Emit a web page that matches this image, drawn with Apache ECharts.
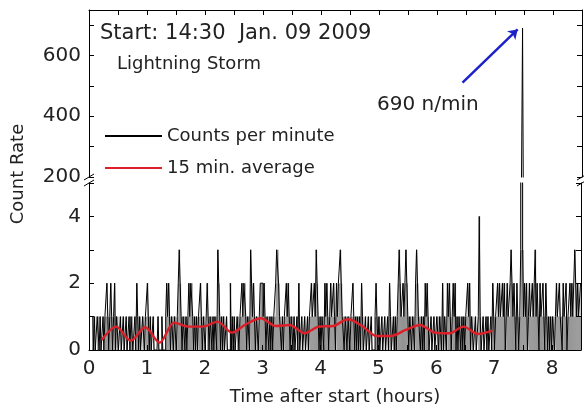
<!DOCTYPE html>
<html>
<head>
<meta charset="utf-8">
<style>
  html, body { margin: 0; padding: 0; background: #fff; }
  #main { width: 584px; height: 408px; }
</style>
</head>
<body>
<div id="main"></div>
<script src="https://cdn.jsdelivr.net/npm/echarts@6.0.0/dist/echarts.min.js"></script>
<script>
// counts per minute, one array per hour (hour 0 starts at minute 4)
var firstMinute = 4;
var hour0 = [1,0,1,0,0,1,1,0,1,0, 0,1,0,1,1,2,1,0,1,2, 1,0,1,2,0,1,1,0,0,1, 0,0,1,0,0,1,0,0,1,0, 1,1,0,0,1,0,2,1,0,1, 0,0,1,1,0,1];
var hour1 = [1,2,1,0,1,0,0,1,0,0, 0,0,1,0,0,0,1,0,0,0, 1,2,1,2,1,0,1,1,0,1, 1,0,1,2,3,2,1,0,1,1, 0,1,0,1,2,1,2,2,1,0, 1,0,1,0,1,1,2,1,0,1];
var hour2 = [1,0,0,2,1,0,1,1,0,1, 0,1,1,0,3,2,1,0,1,0, 1,0,0,1,0,0,0,2,0,1, 0,1,0,0,1,1,0,1,1,2, 1,2,2,1,0,1,1,0,3,2, 1,2,1,0,1,1,0,1,2,2];
var hour3 = [2,1,2,1,0,1,1,0,1,0, 1,0,1,1,2,3,3,2,1,1, 0,1,0,1,1,2,1,2,1,0, 1,1,0,1,0,0,1,0,2,0, 0,1,0,0,1,0,0,1,0,1, 1,2,1,1,2,1,3,2,1,0];
var hour4 = [1,0,1,1,0,2,1,2,1,0, 1,2,1,1,2,1,0,2,1,2, 2,3,2,1,1,0,1,1,0,1, 1,0,1,1,2,1,0,1,0,1, 0,1,0,2,1,0,0,1,0,0, 1,0,0,1,0,0,0,1,2,1];
var hour5 = [0,1,0,0,1,0,0,1,0,0, 1,0,2,1,0,0,1,0,1,0, 1,2,3,2,1,1,2,1,2,3, 2,1,0,1,1,0,1,1,0,2, 3,2,1,1,0,1,0,1,0,2, 1,2,1,0,0,1,0,0,1,0];
var hour6 = [0,1,1,0,1,1,0,2,0,1, 1,0,2,1,2,1,0,1,2,1, 2,0,1,0,1,1,0,1,0,1, 0,1,1,2,1,2,0,1,1,0, 0,1,0,0,1,4,1,0,0,1, 0,0,1,0,1,0,0,1,0,2];
var hour7 = [1,0,1,1,2,1,2,1,1,2, 1,2,0,1,2,1,1,2,3,2, 1,2,1,0,2,1,0,1,3,690, 3,1,2,1,2,0,1,2,1,1, 2,1,2,3,1,2,1,0,2,1, 1,2,1,0,2,1,0,1,0,1];
var hour8 = [0,1,1,0,1,2,1,1,2,1, 1,0,2,1,1,2,0,1,1,2, 1,2,1,1,3,2,1,2,1,1,2];

// 15 min. average
var avgTimes = [0.22,0.47,0.72,0.97,1.22,1.47,1.72,1.97,2.22,2.47,2.72,2.97,3.22,3.47,
                3.72,3.97,4.22,4.47,4.72,4.97,5.22,5.47,5.72,5.97,6.22,6.47,6.72,6.97];
var avgValues = [0.30,0.70,0.28,0.68,0.22,0.82,0.70,0.70,0.85,0.52,0.78,0.95,0.72,0.75,
                 0.50,0.70,0.72,0.92,0.72,0.42,0.42,0.60,0.75,0.52,0.50,0.70,0.48,0.58];

// arrow pointing at the peak
var arrowFrom = [6.44, 511];
var arrowTo = [7.39, 686];

var counts = [].concat(hour0, hour1, hour2, hour3, hour4, hour5, hour6, hour7, hour8);
var countData = counts.map(function (v, i) { return [(firstMinute + i) / 60, v]; });
var avgData = avgTimes.map(function (t, i) { return [t, avgValues[i]]; });

var FONT = 'DejaVu Sans';
var TXT = '#222';
var GL = 89, GR = 2, UT = 10, UH = 167, LT = 183, LH = 167;

var myChart = echarts.init(document.getElementById('main'));

var lineAx = { show: true, lineStyle: { color: '#000', width: 1 } };
var tickAx = { show: true, inside: true, length: 5, lineStyle: { color: '#000' } };

function xFmt(v) { return (Math.abs(v - Math.round(v)) < 1e-6 && v <= 8) ? String(Math.round(v)) : ''; }

option = {
    animation: false,
    textStyle: { fontFamily: FONT },
    grid: [
        { left: GL, right: GR, top: UT, height: UH },
        { left: GL, right: GR, top: LT, height: LH }
    ],
    legend: {
        left: 100, top: 122, orient: 'vertical',
        itemWidth: 57, itemHeight: 2, itemGap: 14, icon: 'rect',
        textStyle: { fontFamily: FONT, fontSize: 18, color: TXT },
        data: ['Counts per minute', '15 min. average']
    },
    xAxis: [
        { gridIndex: 0, type: 'value', position: 'top', min: 0, max: 8.5, interval: 0.5,
          axisLine: lineAx, axisTick: tickAx, axisLabel: { show: false }, splitLine: { show: false } },
        { gridIndex: 1, type: 'value', position: 'bottom', min: 0, max: 8.5, interval: 0.5,
          axisLine: lineAx, axisTick: tickAx, splitLine: { show: false },
          axisLabel: { formatter: xFmt, fontSize: 20, color: TXT, margin: 9, fontFamily: FONT },
          name: 'Time after start (hours)', nameLocation: 'middle', nameGap: 38,
          nameTextStyle: { fontSize: 18, color: TXT, fontFamily: FONT } }
    ],
    yAxis: [
        { gridIndex: 0, type: 'value', min: 200, max: 750, interval: 100, position: 'left',
          axisLine: lineAx, axisTick: tickAx, splitLine: { show: false },
          axisLabel: { fontSize: 20, color: TXT, margin: 8, fontFamily: FONT,
                       formatter: function (v) { return (v % 200 === 0 && v < 700) ? String(v) : ''; } } },
        { gridIndex: 0, type: 'value', min: 200, max: 750, interval: 100, position: 'right',
          axisLine: lineAx, axisTick: tickAx, splitLine: { show: false }, axisLabel: { show: false } },
        { gridIndex: 1, type: 'value', min: 0, max: 5, interval: 1, position: 'left',
          axisLine: lineAx, axisTick: tickAx, splitLine: { show: false },
          axisLabel: { fontSize: 20, color: TXT, margin: 8, fontFamily: FONT,
                       formatter: function (v) { return (v % 2 === 0 && v < 5) ? String(v) : ''; } } },
        { gridIndex: 1, type: 'value', min: 0, max: 5, interval: 1, position: 'right',
          axisLine: lineAx, axisTick: tickAx, splitLine: { show: false }, axisLabel: { show: false } }
    ],
    series: [
        {
            name: 'Counts per minute', type: 'line', xAxisIndex: 0, yAxisIndex: 0,
            data: countData, step: 'middle', symbol: 'none',
            lineStyle: { color: '#000', width: 1 }, itemStyle: { color: '#000' },
            markLine: {
                silent: true, symbol: ['none', 'arrow'], symbolSize: 9,
                label: { show: false },
                lineStyle: { color: '#1c22c8', width: 2.5, type: 'solid' },
                data: [[{ coord: arrowFrom }, { coord: arrowTo }]]
            }
        },
        {
            // grey fill under the per-minute steps
            name: 'counts fill', type: 'bar', xAxisIndex: 1, yAxisIndex: 2,
            data: countData, barWidth: 1, silent: true,
            itemStyle: { color: 'rgba(0,0,0,0.42)' }
        },
        {
            name: 'Counts per minute', type: 'line', xAxisIndex: 1, yAxisIndex: 2,
            data: countData, step: 'middle', symbol: 'none',
            lineStyle: { color: '#000', width: 1 }, itemStyle: { color: '#000' }
        },
        {
            name: '15 min. average', type: 'line', xAxisIndex: 1, yAxisIndex: 2,
            data: avgData, smooth: 0.3, symbol: 'none',
            lineStyle: { color: '#dc1f28', width: 2.4 }, itemStyle: { color: '#dc1f28' }
        }
    ],
    graphic: [
        { type: 'text', left: 100, top: 23,
          style: { text: 'Start: 14:30  Jan. 09 2009', font: '21px "DejaVu Sans"', fill: TXT } },
        { type: 'text', left: 117, top: 55,
          style: { text: 'Lightning Storm', font: '18px "DejaVu Sans"', fill: TXT } },
        { type: 'text', left: 377, top: 95,
          style: { text: '690 n/min', font: '20px "DejaVu Sans"', fill: TXT } },
        { type: 'text', x: 18, y: 174, rotation: Math.PI / 2,
          style: { text: 'Count Rate', font: '18px "DejaVu Sans"', fill: TXT, align: 'center', verticalAlign: 'middle' } },
        // axis break marks
        { type: 'line', shape: { x1: 84, y1: 180, x2: 94, y2: 174 }, style: { stroke: '#000', lineWidth: 1 } },
        { type: 'line', shape: { x1: 84, y1: 186, x2: 94, y2: 180 }, style: { stroke: '#000', lineWidth: 1 } },
        { type: 'line', shape: { x1: 577, y1: 180, x2: 587, y2: 174 }, style: { stroke: '#000', lineWidth: 1 } },
        { type: 'line', shape: { x1: 577, y1: 186, x2: 587, y2: 180 }, style: { stroke: '#000', lineWidth: 1 } }
    ]
};

myChart.setOption(option);
</script>
</body>
</html>
